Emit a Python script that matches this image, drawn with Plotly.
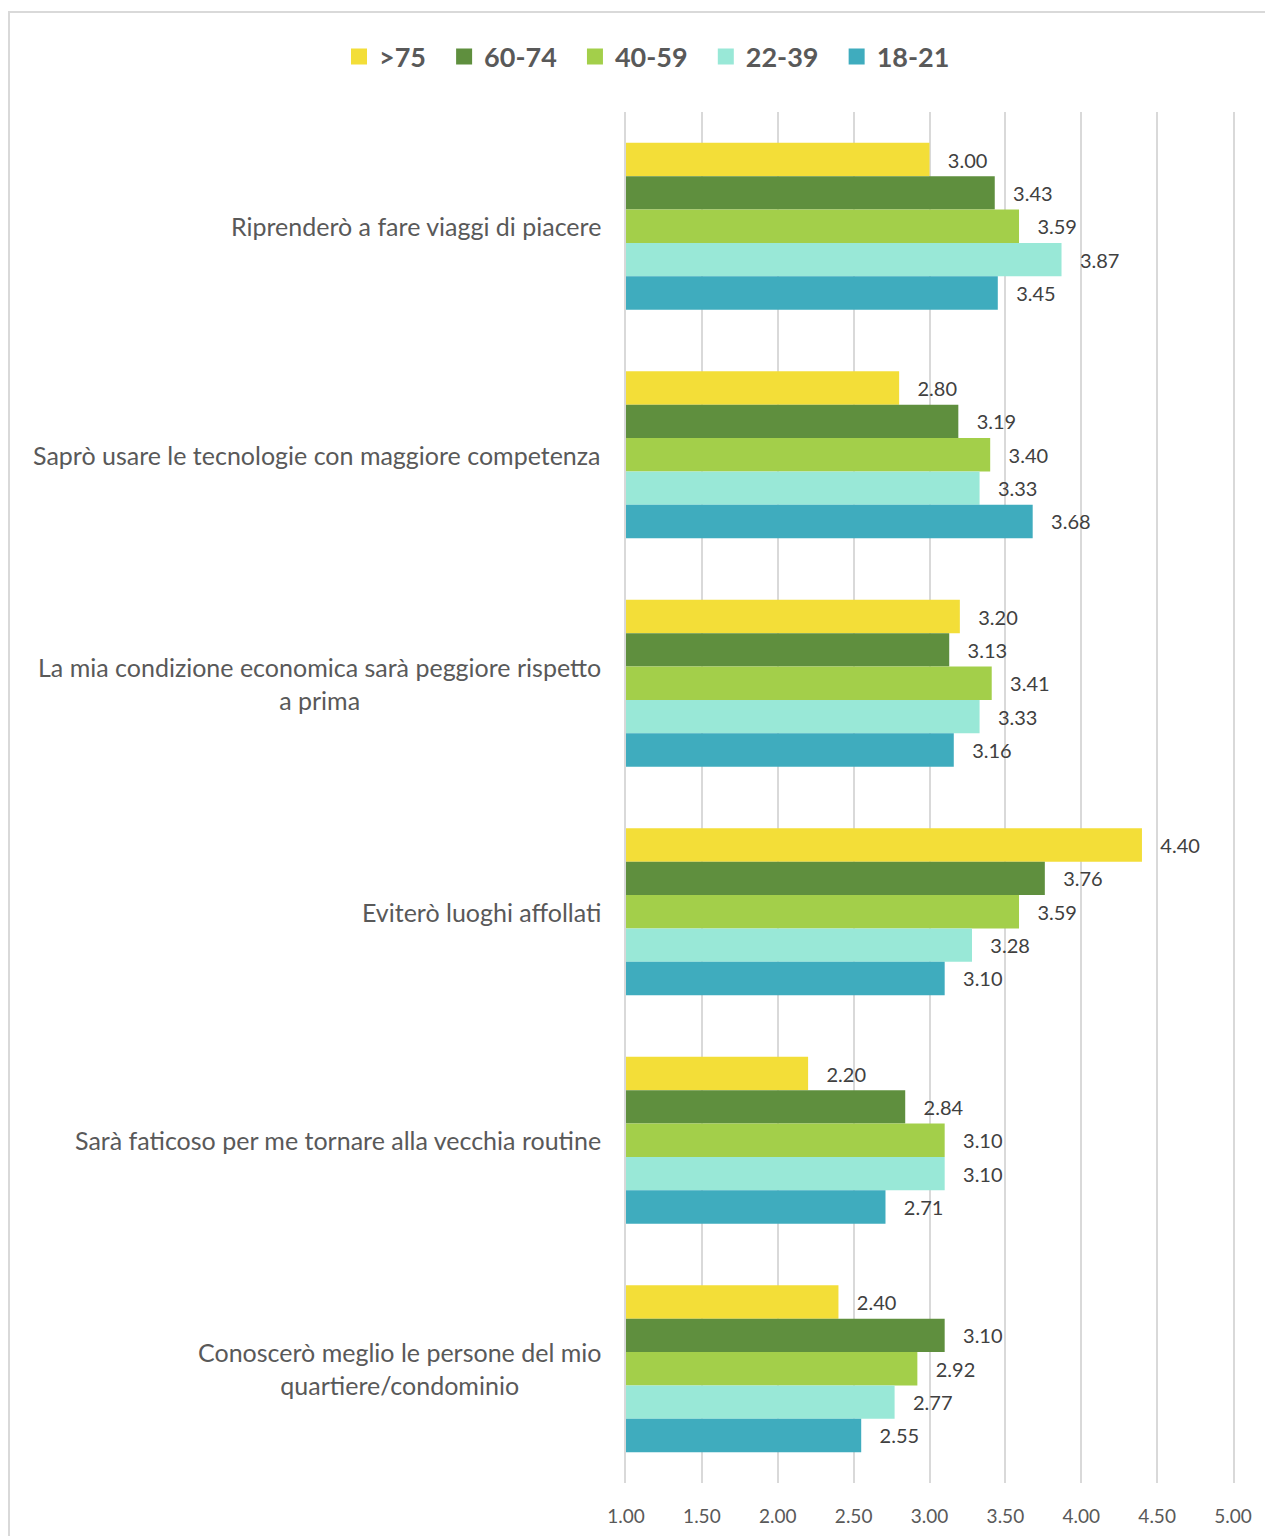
import plotly.graph_objects as go

categories = [
    "Riprenderò a fare viaggi di piacere",
    "Saprò usare le tecnologie con maggiore competenza",
    "La mia condizione economica sarà peggiore rispetto<br>a prima",
    "Eviterò luoghi affollati",
    "Sarà faticoso per me tornare alla vecchia routine",
    "Conoscerò meglio le persone del mio<br>quartiere/condominio",
]
series_names = [">75", "60-74", "40-59", "22-39", "18-21"]
v_75 = [3.00, 2.80, 3.20, 4.40, 2.20, 2.40]
v_60_74 = [3.43, 3.19, 3.13, 3.76, 2.84, 3.10]
v_40_59 = [3.59, 3.40, 3.41, 3.59, 3.10, 2.92]
v_22_39 = [3.87, 3.33, 3.33, 3.28, 3.10, 2.77]
v_18_21 = [3.45, 3.68, 3.16, 3.10, 2.71, 2.55]
series_values = [v_75, v_60_74, v_40_59, v_22_39, v_18_21]
colors = ["#F3DE38", "#5F8F3E", "#A3CF4A", "#99E8D7", "#3FACBE"]
x_ticks = [1.0, 1.5, 2.0, 2.5, 3.0, 3.5, 4.0, 4.5, 5.0]

FONT = "Lato, 'Open Sans', sans-serif"

fig = go.Figure()
for name, vals, col in zip(series_names, series_values, colors):
    fig.add_trace(go.Bar(
        y=categories, x=vals, name=name, orientation="h",
        marker=dict(color=col, line=dict(width=0)),
        text=[f"\u00a0\u00a0\u00a0{v:.2f}" for v in vals],
        textposition="outside",
        textfont=dict(family=FONT, size=20, color="#404040"),
        cliponaxis=False, showlegend=False,
    ))
# legend entries with larger square swatches
for name, col in zip(series_names, colors):
    fig.add_trace(go.Scatter(
        x=[None], y=[None], mode="markers", name=name + "\u00a0\u00a0",
        marker=dict(symbol="square", size=17, color=col),
    ))

# page offset of 8px (body margin)
OFF = 8
W, H = 1273, 1536
ml = 626 - OFF
mr = 1273 - (1233 - OFF)
mt, mb = 112 - OFF, H - (1483 - OFF)
pw = W - ml - mr
ph = H - mt - mb

def px_x(p):
    return (p - OFF - ml) / pw

def px_y(p):
    return (H - mb - (p - OFF)) / ph

for cat in categories:
    fig.add_annotation(
        x=px_x(603), xref="paper", y=cat, yref="y",
        text=cat, showarrow=False, xanchor="right", yanchor="middle",
        align="center", font=dict(family=FONT, size=25, color="#595959"),
    )

fig.add_shape(type="rect", xref="paper", yref="paper",
              x0=px_x(9), x1=px_x(1300), y0=px_y(1560), y1=px_y(12),
              line=dict(color="#D9D9D9", width=2), fillcolor="rgba(0,0,0,0)",
              layer="below")

fig.update_layout(
    width=W, height=H,
    margin=dict(l=ml, r=mr, t=mt, b=mb),
    barmode="group", bargap=0.27, bargroupgap=0,
    plot_bgcolor="white", paper_bgcolor="white",
    font=dict(family=FONT, color="#595959"),
    legend=dict(
        orientation="h", xref="paper", yref="container",
        x=px_x(339), y=1 - (57 - OFF) / H, xanchor="left", yanchor="middle",
        font=dict(family=FONT, size=27, color="#595959", weight="bold"),
        traceorder="normal",
    ),
    xaxis=dict(
        range=[1, 5], tickvals=x_ticks,
        ticktext=[f"{t:.2f}" for t in x_ticks],
        showgrid=True, gridcolor="#D9D9D9", gridwidth=1.5,
        zeroline=False, showline=False,
        ticks="outside", ticklen=16, tickcolor="rgba(0,0,0,0)",
        tickfont=dict(family=FONT, size=19, color="#595959"),
    ),
    yaxis=dict(
        autorange="reversed", showticklabels=False, showgrid=False,
        zeroline=False, showline=True, mirror=True,
        linecolor="#D9D9D9", linewidth=1.5,
    ),
)

fig.write_html("out.html")
